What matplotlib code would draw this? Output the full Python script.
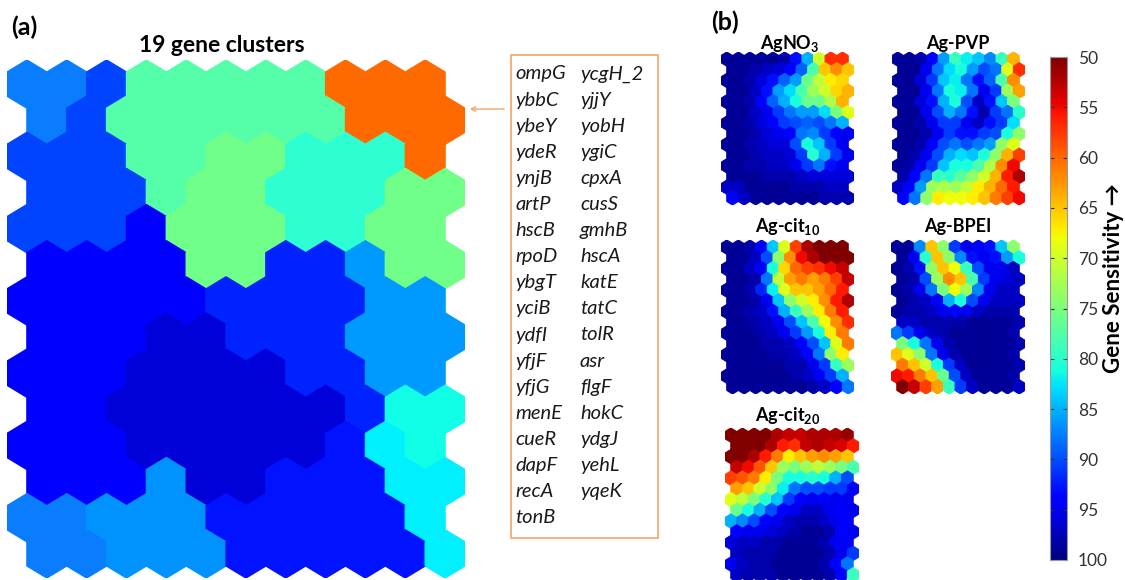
import numpy as np
import matplotlib
matplotlib.use('Agg')
import matplotlib.pyplot as plt
from matplotlib.collections import PolyCollection
from matplotlib.colors import Normalize
from matplotlib.patches import Rectangle, FancyArrowPatch

plt.rcParams['font.family'] = ['Lato', 'DejaVu Sans']
plt.rcParams['mathtext.default'] = 'regular'

W, H = 1125, 580
N_ROWS, N_COLS = 14, 11

# (a) cluster label of every SOM unit (rows top->bottom, odd rows shifted right)
cluster_map = [
    "AABCCCCCDDD",
    "ABCCCCCCDDD",
    "BBBCCEEFFFD",
    "BBBCEEFFFEE",
    "BBBGEEEFFEE",
    "GGGGEEHHIEE",
    "GGGGGHHHHII",
    "GGGJJHHHIII",
    "GGGJJJJHHII",
    "GGJJJJJJHKK",
    "GGGJJJJJMLK",
    "GGGNJJMMMLL",
    "AANNNMMMMML",
    "AANNNMMMMML",
]
cluster_colors = {
    'A': '#0A7DFF', 'B': '#0044FF', 'C': '#55FFAA', 'D': '#FF6A00',
    'E': '#70FF88', 'F': '#2DFFD2', 'G': '#0000FF', 'H': '#0022FF',
    'I': '#009AFF', 'J': '#0000D8', 'K': '#10FFE6', 'L': '#00F0FF',
    'M': '#0012FF', 'N': '#0092FF',
}

genes_col1 = ['ompG', 'ybbC', 'ybeY', 'ydeR', 'ynjB', 'artP', 'hscB', 'rpoD', 'ybgT',
              'yciB', 'ydfI', 'yfjF', 'yfjG', 'menE', 'cueR', 'dapF', 'recA', 'tonB']
genes_col2 = ['ycgH_2', 'yjjY', 'yobH', 'ygiC', 'cpxA', 'cusS', 'gmhB', 'hscA', 'katE',
              'tatC', 'tolR', 'asr', 'flgF', 'hokC', 'ydgJ', 'yehL', 'yqeK']

# (b) gene sensitivity per SOM unit
agno3 = [
    [99, 99, 99, 99, 99, 98, 93, 85, 70, 57, 57],
    [99, 99, 98, 97, 96, 94, 89, 78, 65, 62, 65],
    [99, 99, 98, 96, 93, 89, 86, 76, 71, 67, 66],
    [99, 99, 97, 93, 86, 83, 78, 73, 70, 66, 64],
    [99, 99, 98, 94, 89, 85, 81, 76, 76, 72, 64],
    [99, 99, 97, 95, 91, 88, 86, 86, 83, 75, 69],
    [99, 99, 98, 96, 94, 91, 90, 89, 90, 88, 85],
    [99, 99, 98, 96, 95, 94, 88, 87, 91, 94, 95],
    [99, 99, 98, 97, 96, 96, 90, 81, 84, 91, 95],
    [99, 99, 98, 97, 97, 96, 91, 80, 85, 91, 95],
    [99, 99, 98, 98, 97, 97, 95, 91, 88, 93, 95],
    [99, 99, 99, 98, 98, 98, 97, 96, 96, 96, 96],
    [97, 97, 99, 99, 99, 99, 98, 98, 98, 97, 97],
    [94, 97, 99, 99, 99, 99, 99, 99, 98, 98, 98],
]
ag_pvp = [
    [99, 99, 98, 94, 86, 79, 82, 84, 87, 79, 64],
    [99, 99, 95, 88, 83, 81, 86, 90, 88, 69, 57],
    [99, 99, 96, 91, 84, 82, 88, 93, 89, 78, 62],
    [99, 99, 95, 88, 81, 82, 88, 95, 91, 73, 63],
    [99, 99, 96, 93, 85, 81, 90, 97, 93, 84, 75],
    [99, 99, 95, 90, 85, 88, 93, 98, 91, 88, 80],
    [99, 99, 98, 95, 91, 91, 95, 97, 93, 91, 83],
    [99, 99, 98, 95, 91, 93, 93, 91, 90, 81, 74],
    [99, 99, 98, 94, 90, 88, 90, 88, 86, 74, 69],
    [99, 98, 95, 90, 85, 83, 84, 81, 74, 64, 58],
    [99, 98, 95, 91, 84, 81, 81, 78, 72, 62, 55],
    [98, 94, 88, 79, 80, 77, 74, 70, 64, 56, 52],
    [97, 94, 86, 73, 72, 73, 71, 67, 64, 60, 56],
    [94, 88, 74, 67, 68, 68, 67, 65, 61, 58, 55],
]
ag_cit10 = [
    [99, 99, 98, 94, 84, 69, 58, 52, 50, 50, 50],
    [99, 99, 97, 90, 74, 62, 55, 52, 50, 50, 50],
    [99, 99, 97, 94, 81, 66, 60, 58, 57, 55, 53],
    [99, 99, 98, 88, 71, 63, 61, 63, 61, 58, 53],
    [99, 99, 98, 92, 82, 69, 65, 65, 63, 60, 56],
    [99, 99, 98, 95, 84, 74, 70, 67, 62, 56, 52],
    [99, 99, 98, 97, 93, 85, 79, 73, 67, 61, 56],
    [99, 99, 98, 97, 95, 90, 84, 78, 68, 62, 57],
    [99, 99, 99, 98, 97, 95, 91, 86, 81, 67, 61],
    [99, 99, 99, 98, 98, 97, 94, 90, 84, 69, 61],
    [99, 99, 99, 99, 98, 98, 97, 94, 88, 74, 67],
    [99, 99, 99, 99, 99, 98, 98, 95, 91, 79, 73],
    [99, 99, 99, 99, 99, 99, 98, 97, 95, 91, 85],
    [99, 99, 99, 99, 99, 99, 99, 98, 97, 94, 88],
]
ag_bpei = [
    [99, 99, 87, 65, 74, 91, 95, 94, 93, 84, 74],
    [99, 95, 80, 65, 74, 87, 93, 95, 93, 86, 81],
    [99, 98, 93, 74, 65, 68, 79, 90, 95, 95, 97],
    [99, 98, 90, 73, 62, 65, 78, 91, 95, 96, 97],
    [99, 98, 95, 88, 75, 68, 73, 87, 95, 97, 97],
    [99, 98, 97, 94, 85, 81, 90, 95, 97, 97, 97],
    [99, 98, 98, 97, 95, 94, 95, 97, 98, 98, 98],
    [97, 97, 98, 98, 98, 98, 99, 99, 99, 99, 98],
    [88, 91, 95, 97, 98, 99, 99, 99, 99, 99, 98],
    [75, 81, 88, 95, 98, 99, 99, 99, 99, 99, 98],
    [65, 69, 74, 88, 95, 98, 99, 99, 99, 99, 98],
    [61, 65, 70, 81, 91, 97, 99, 99, 99, 99, 98],
    [55, 56, 61, 65, 76, 90, 97, 99, 99, 99, 98],
    [50, 53, 58, 63, 79, 91, 97, 99, 99, 99, 97],
]
ag_cit20 = [
    [50, 50, 50, 50, 52, 53, 53, 52, 52, 52, 51],
    [50, 50, 50, 52, 56, 57, 53, 52, 53, 54, 56],
    [50, 50, 52, 56, 61, 67, 65, 63, 62, 63, 65],
    [53, 55, 59, 65, 73, 75, 73, 71, 73, 75, 78],
    [58, 59, 61, 67, 75, 81, 81, 80, 81, 85, 90],
    [63, 65, 70, 74, 82, 88, 90, 90, 91, 91, 94],
    [69, 71, 75, 80, 84, 91, 94, 95, 94, 95, 95],
    [76, 81, 85, 90, 94, 95, 97, 97, 95, 94, 95],
    [85, 87, 90, 94, 95, 97, 98, 98, 97, 95, 94],
    [94, 95, 95, 96, 97, 98, 99, 99, 98, 94, 95],
    [96, 97, 97, 98, 98, 99, 99, 99, 98, 95, 94],
    [97, 98, 98, 98, 99, 99, 99, 99, 98, 95, 91],
    [95, 97, 98, 98, 99, 99, 99, 99, 98, 94, 88],
    [97, 98, 98, 98, 99, 99, 99, 99, 98, 94, 79],
]

R = 1 / np.sqrt(3)


def hex_polys():
    ang = np.deg2rad([90, 150, 210, 270, 330, 30])
    polys = []
    for i in range(N_ROWS):
        for j in range(N_COLS):
            cx = j + 0.5 * (i % 2)
            cy = i * 1.5 * R
            polys.append(np.column_stack([cx + R * np.cos(ang), cy + R * np.sin(ang)]))
    return polys


def px_axes(x0, y0, x1, y1):
    return fig.add_axes([x0 / W, 1 - y1 / H, (x1 - x0) / W, (y1 - y0) / H])


def som_axes(box):
    ax = px_axes(*box)
    ax.set_xlim(-0.5, N_COLS)
    ax.set_ylim((N_ROWS - 1) * 1.5 * R + R, -R)
    ax.set_axis_off()
    return ax


def ftext(x, y, s, **kw):
    fig.text(x / W, 1 - y / H, s, **kw)


fig = plt.figure(figsize=(11.25, 5.8), dpi=100)
polys = hex_polys()

# (a) clusters
ax = som_axes((7, 60, 465, 578))
face = [cluster_colors[c] for row in cluster_map for c in row]
ax.add_collection(PolyCollection(polys, facecolors=face, edgecolors=face, linewidths=1.0))

ftext(11, 27, '(a)', fontsize=18, fontweight='bold', va='center')
ftext(222, 46, '19 gene clusters', fontsize=16.5, fontweight='bold', ha='center', va='center')

# gene list box + arrow
box_col = '#F4A46C'
fig.add_artist(Rectangle((511 / W, 1 - 538 / H), 147 / W, 483 / H, transform=fig.transFigure,
                         fill=False, edgecolor=box_col, linewidth=1.2))
fig.add_artist(FancyArrowPatch((507 / W, 1 - 109 / H), (467 / W, 1 - 109 / H),
                               transform=fig.transFigure, arrowstyle='->',
                               mutation_scale=8, color=box_col, lw=1))
for k, g in enumerate(genes_col1):
    ftext(515, 74 + 26.1 * k, g, fontsize=14.5, style='italic', va='center', color='#1a1a1a')
for k, g in enumerate(genes_col2):
    ftext(580, 74 + 26.1 * k, g, fontsize=14.5, style='italic', va='center', color='#1a1a1a')

# (b) sensitivity maps
norm = Normalize(vmin=50, vmax=100)
panels = [
    (agno3, (721, 52, 854, 205), 'AgNO$_3$', (790, 43)),
    (ag_pvp, (892, 52, 1025, 205), 'Ag-PVP', (958, 43)),
    (ag_cit10, (721, 240, 854, 394), 'Ag-cit$_{10}$', (788, 227)),
    (ag_bpei, (891, 240, 1025, 394), 'Ag-BPEI', (958, 227)),
    (ag_cit20, (725, 428, 859, 582), 'Ag-cit$_{20}$', (788, 416)),
]
for vals, box, title, (tx, ty) in panels:
    a = som_axes(box)
    pc = PolyCollection(polys, array=np.ravel(vals), cmap='jet_r', norm=norm,
                        edgecolors='face', linewidths=0.8)
    a.add_collection(pc)
    ftext(tx, ty, title, fontsize=13, fontweight='bold', ha='center', va='center')

ftext(711, 22, '(b)', fontsize=18, fontweight='bold', va='center')

cax = px_axes(1050, 57, 1067, 560)
cb = fig.colorbar(pc, cax=cax, ticks=range(50, 101, 5))
cax.invert_yaxis()
cb.outline.set_edgecolor('#999999')
cb.outline.set_linewidth(0.8)
cax.tick_params(direction='in', left=True, right=True, length=3, width=0.8,
                colors='#333333', labelsize=12.5, pad=8)
ftext(1114, 278, 'Gene Sensitivity \u2192', fontsize=16, fontweight='bold',
      rotation=90, ha='center', va='center')

fig.savefig('out.png', dpi=100)
